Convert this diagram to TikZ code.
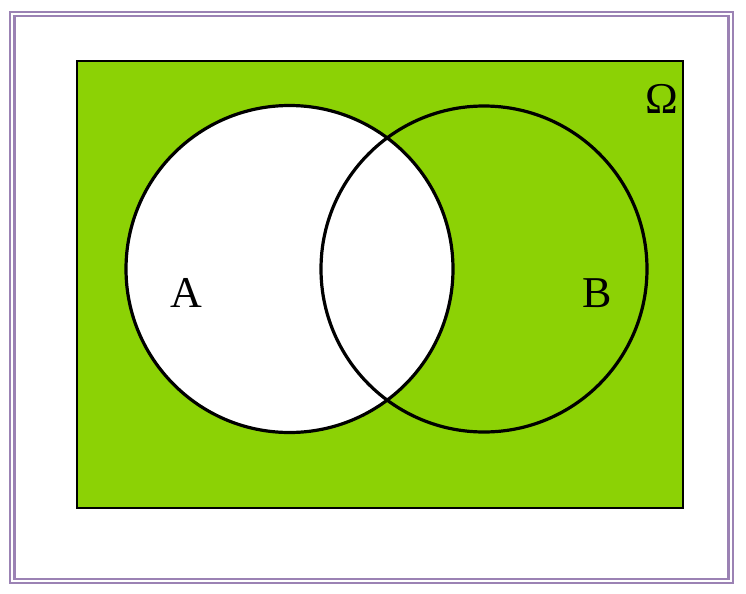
\documentclass[tikz,border=0pt]{standalone}
\usepackage{fontspec}
\setmainfont{Liberation Serif}
\definecolor{frame}{RGB}{155,130,180}
\definecolor{venngreen}{RGB}{140,210,5}
\begin{document}
\begin{tikzpicture}[x=0.75pt,y=-0.75pt,
  frameline/.style={draw=frame,line width=2pt},
  setline/.style={draw=black,line width=2.4pt},
  lbl/.style={font=\fontsize{33}{33}\selectfont,inner sep=0pt}]
\useasboundingbox (0,0) rectangle (746,593);
\draw[frameline] (10,12) rectangle (733,583);
\draw[frameline] (14.5,16) rectangle (728.5,579);
\draw[draw=black,line width=1.8pt,fill=venngreen] (77,61) rectangle (683,508);
\fill[white] (289.5,269) circle[radius=163.5];
\draw[setline] (289.5,269) circle[radius=163.5];
\draw[setline] (484,269) circle[radius=163];
\node[lbl] (a) at (186,293) {A};
\node[lbl] (b) at (597,293) {B};
\node[lbl] (omega) at (662,99) {Ω};
\end{tikzpicture}
\end{document}
